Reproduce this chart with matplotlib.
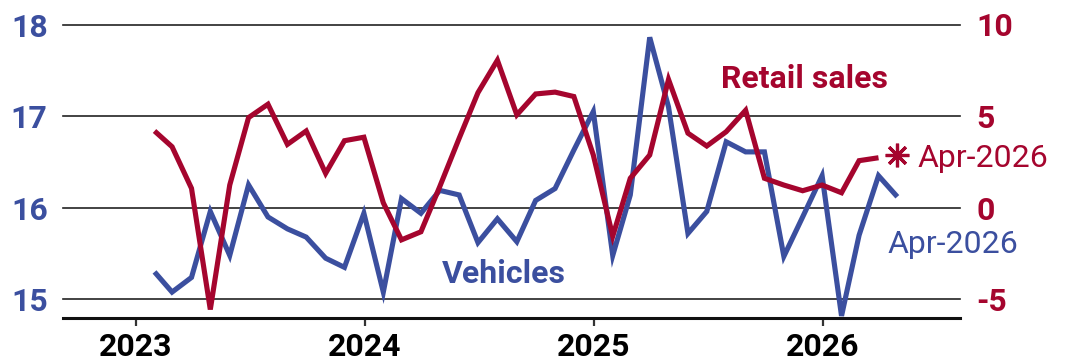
import matplotlib
matplotlib.use("Agg")
import matplotlib.pyplot as plt
import pandas as pd

# Monthly data, Jan-2023 .. Apr-2026 (month-end dates)
months = pd.date_range("2023-01-31", periods=40, freq="ME")

# Light vehicle sales, millions (left axis)
vehicles = [15.30, 15.08, 15.24, 15.96, 15.48, 16.25, 15.90, 15.77, 15.68, 15.45,
            15.35, 15.94, 15.08, 16.10, 15.94, 16.19, 16.14, 15.62, 15.88, 15.63,
            16.08, 16.21, 16.63, 17.05, 15.48, 16.14, 17.86, 17.10, 15.72, 15.96,
            16.72, 16.61, 16.61, 15.47, 15.90, 16.35, 14.82, 15.70, 16.35, 16.12]

# Retail sales, % change (right axis), through Mar-2026
retail_sales = [4.19, 3.33, 1.06, -5.55, 1.24, 4.92, 5.65, 3.46, 4.19, 1.88,
                3.66, 3.85, 0.27, -1.75, -1.31, 1.15, 3.79, 6.28, 8.05, 5.07,
                6.21, 6.31, 6.07, 2.88, -1.55, 1.61, 2.88, 7.0, 4.07, 3.37,
                4.15, 5.32, 1.61, 1.24, 0.93, 1.24, 0.82, 2.57, 2.73]
# Latest (Apr-2026) retail sales reading, flagged separately
retail_latest = 2.9

left_ticks = [15, 16, 17, 18]
right_ticks = [-5, 0, 5, 10]
year_ticks = ["2023", "2024", "2025", "2026"]

RED = "#a5052e"
BLUE = "#3b4f9f"
FONT = "Roboto"

fig = plt.figure(figsize=(10.68, 3.62), dpi=100)
ax = fig.add_axes([63 / 1068, 1 - 318.3 / 362, (960 - 63) / 1068, (318.3 - 24.5) / 362])
ax2 = ax.twinx()

ylo, yhi = 14.794, 18.0
ax.set_ylim(ylo, yhi)
ax2.set_ylim((ylo - 16) * 5, (yhi - 16) * 5)
ax.set_xlim(pd.Timestamp("2022-09-07"), pd.Timestamp("2026-08-08"))

# gridlines follow the left axis ticks
for v in left_ticks:
    ax.axhline(v, color="#222222", lw=1.2, zorder=1, clip_on=False)

ax.plot(months, vehicles, color=BLUE, lw=3.7, solid_joinstyle="miter",
        solid_capstyle="butt", zorder=3)
ax2.plot(months[:len(retail_sales)], retail_sales, color=RED, lw=3.7,
         solid_joinstyle="miter", solid_capstyle="butt", zorder=3)
ax2.plot([months[-1]], [retail_latest], linestyle="none", marker=(8, 2, 0),
         markersize=17, markeredgewidth=2.3, color=RED, zorder=4)

for a in (ax, ax2):
    for s in ("top", "left", "right"):
        a.spines[s].set_visible(False)
ax2.spines["bottom"].set_visible(False)
ax.spines["bottom"].set_linewidth(2.2)
ax.spines["bottom"].set_color("#111111")

ax.set_yticks(left_ticks)
ax.set_yticklabels([str(t) for t in left_ticks])
ax2.set_yticks(right_ticks)
ax2.set_yticklabels([str(t) for t in right_ticks])
ax.tick_params(axis="y", length=0, pad=11, labelcolor=BLUE, labelsize=23)
ax2.tick_params(axis="y", length=0, pad=12, labelcolor=RED, labelsize=23)
for lbl in ax.get_yticklabels() + ax2.get_yticklabels():
    lbl.set_fontfamily(FONT)
    lbl.set_fontweight("bold")

ax.set_xticks([pd.Timestamp(f"{y}-01-01") for y in year_ticks])
ax.set_xticklabels(year_ticks)
ax.tick_params(axis="x", length=6, width=1.6, color="#333333", pad=4,
               labelsize=23, labelcolor="black")
for lbl in ax.get_xticklabels():
    lbl.set_fontfamily(FONT)
    lbl.set_fontweight("bold")

# series labels
fig.text(804.7 / 1068, 1 - 88 / 362, "Retail sales", color=RED, fontsize=23,
         fontweight="bold", family=FONT, ha="center", va="baseline")
fig.text(503.4 / 1068, 1 - 283 / 362, "Vehicles", color=BLUE, fontsize=23,
         fontweight="bold", family=FONT, ha="center", va="baseline")
fig.text(918 / 1068, 1 - 167 / 362, "Apr-2026", color=RED, fontsize=23,
         family=FONT, ha="left", va="baseline")
fig.text(887 / 1068, 1 - 253 / 362, "Apr-2026", color=BLUE, fontsize=23,
         family=FONT, ha="left", va="baseline")

fig.savefig("out.png", dpi=100)
